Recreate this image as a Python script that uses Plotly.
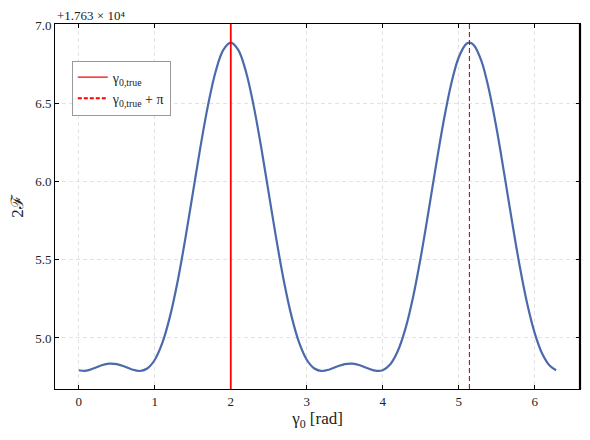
import plotly.graph_objects as go

# 2F values, shown relative to the offset 1.763e4
OFFSET_TEXT = "+1.763 × 10⁴"
gamma0 = [0.0, 0.1, 0.2, 0.3, 0.4, 0.5, 0.6, 0.7, 0.8, 0.9,
          1.0, 1.1, 1.2, 1.3, 1.4, 1.5, 1.6, 1.7, 1.8, 1.9,
          2.0, 2.1, 2.2, 2.3, 2.4, 2.5, 2.6, 2.7, 2.8, 2.9,
          3.0, 3.1, 3.2, 3.3, 3.4, 3.5, 3.6, 3.7, 3.8, 3.9,
          4.0, 4.1, 4.2, 4.3, 4.4, 4.5, 4.6, 4.7, 4.8, 4.9,
          5.0, 5.1, 5.14, 5.2, 5.3, 5.4, 5.5, 5.6, 5.7, 5.8, 5.9,
          6.0, 6.1, 6.2, 6.283]
two_f = [4.794, 4.791, 4.807, 4.826, 4.836, 4.833, 4.818, 4.799, 4.789, 4.805,
         4.861, 4.970, 5.138, 5.361, 5.630, 5.924, 6.219, 6.486, 6.701, 6.839,
         6.887, 6.839, 6.701, 6.486, 6.219, 5.924, 5.630, 5.361, 5.138, 4.970,
         4.861, 4.805, 4.789, 4.799, 4.818, 4.833, 4.836, 4.826, 4.807, 4.791,
         4.794, 4.832, 4.918, 5.061, 5.262, 5.514, 5.800, 6.098, 6.380, 6.620,
         6.792, 6.879, 6.887, 6.871, 6.769, 6.583, 6.335, 6.048, 5.751, 5.468, 5.224,
         5.033, 4.899, 4.822, 4.794]
gamma_true = 2.0
gamma_true_pi = 5.1416

FONT = "Liberation Serif"

fig = go.Figure()

fig.add_trace(go.Scatter(
    x=gamma0, y=two_f, mode="lines", line=dict(color="#4b6aab", width=2.2, shape="spline"),
    showlegend=False, hoverinfo="skip"))

# legend entries for the vertical markers
fig.add_trace(go.Scatter(x=[None], y=[None], mode="lines",
                         line=dict(color="red", width=1.2),
                         name="γ<sub>0,true</sub>"))
fig.add_trace(go.Scatter(x=[None], y=[None], mode="lines",
                         line=dict(color="red", width=2, dash="4px,2px"),
                         name="γ<sub>0,true</sub> + π"))

fig.add_vline(x=gamma_true, line=dict(color="red", width=1.8))
fig.add_vline(x=gamma_true_pi, line=dict(color="#e00000", width=1.1, dash="5px,3px"))

# heavier right spine, as in the original
fig.add_shape(type="line", xref="paper", yref="paper", x0=1, x1=1, y0=0, y1=1,
              line=dict(color="black", width=2.2))

axis_common = dict(
    showline=True, linecolor="black", linewidth=1, mirror="ticks",
    ticks="inside", ticklen=4, tickwidth=1.2, tickcolor="black",
    showgrid=True, gridcolor="#e3e3e3", griddash="4px,3px", gridwidth=1,
    zeroline=False, automargin=False,
    tickfont=dict(family=FONT, size=13, color="#222"),
)

fig.update_xaxes(range=[-0.314, 6.597], tick0=0, dtick=1,
                 title=dict(text="γ<sub>0</sub> [rad]", font=dict(family=FONT, size=17, color="#222"),
                            standoff=4),
                 **axis_common)
fig.update_yaxes(range=[4.674, 7.006], tick0=5, dtick=0.5, tickformat=".1f",
                 title=dict(text="2ℱ", font=dict(family=FONT, size=17, color="#222"), standoff=8),
                 **axis_common)

fig.add_annotation(text=OFFSET_TEXT, xref="paper", yref="paper", x=0, y=1,
                   xanchor="left", yanchor="bottom", showarrow=False, yshift=-1,
                   font=dict(family=FONT, size=13, color="#222"))

# page body adds an 8px offset, so the figure is a bit smaller than the window
fig.update_layout(
    width=582, height=432,
    margin=dict(l=47, r=10, t=16, b=51),
    plot_bgcolor="white", paper_bgcolor="white",
    legend=dict(x=0.032, y=0.9, xanchor="left", yanchor="top",
                bordercolor="#999", borderwidth=1, bgcolor="white",
                font=dict(family=FONT, size=14, color="#222"),
                tracegroupgap=0, itemwidth=30),
)

fig.write_html("out.html")
